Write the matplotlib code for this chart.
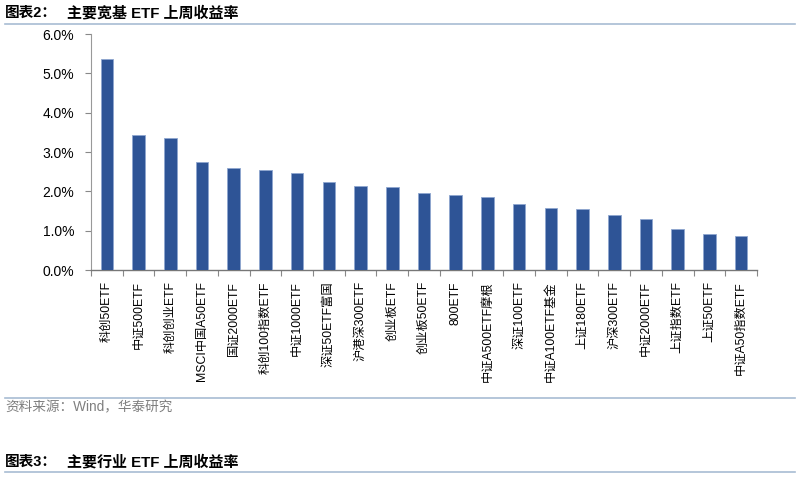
import matplotlib
matplotlib.use("Agg")
import matplotlib.pyplot as plt
from matplotlib.ticker import FuncFormatter, FixedLocator
from matplotlib.lines import Line2D
import numpy as np

categories = ["科创50ETF", "中证500ETF", "科创创业ETF", "MSCI中国A50ETF", "国证2000ETF",
              "科创100指数ETF", "中证1000ETF", "深证50ETF富国", "沪港深300ETF", "创业板ETF",
              "创业板50ETF", "800ETF", "中证A500ETF摩根", "深证100ETF", "中证A100ETF基金",
              "上证180ETF", "沪深300ETF", "中证2000ETF", "上证指数ETF", "上证50ETF", "中证A50指数ETF"]
returns = [5.37, 3.43, 3.36, 2.75, 2.59, 2.53, 2.46, 2.23, 2.14, 2.11,
           1.95, 1.91, 1.86, 1.67, 1.57, 1.54, 1.41, 1.30, 1.04, 0.91, 0.86]
yticks = [0, 1, 2, 3, 4, 5, 6]

plt.rcParams['font.family'] = ['Liberation Sans', 'Noto Sans CJK SC']

W, H = 800, 486
fig = plt.figure(figsize=(W / 100, H / 100), dpi=100)
ax = fig.add_axes([91 / W, 1 - 270 / H, (757 - 91) / W, (270 - 34) / H])

x = np.arange(len(categories))
ax.bar(x, returns, width=0.4, color="#2E5496", edgecolor="#8EA6CF", linewidth=0.6, zorder=3)

ax.set_xlim(-0.5, len(categories) - 0.5)
ax.set_ylim(0, 6)
ax.set_yticks(yticks)
ax.yaxis.set_major_formatter(FuncFormatter(lambda v, p: f"{v:.1f}%"))
ax.tick_params(axis="y", labelsize=10, length=4, color="#888888", width=0.8, pad=8, labelcolor="#000000")

ax.set_xticks(x)
ax.set_xticklabels(categories, rotation=90, fontsize=8.8, va="top", ha="center")
ax.tick_params(axis="x", which="major", length=0, pad=8)
ax.xaxis.set_minor_locator(FixedLocator(np.arange(-0.5, len(categories), 1.0)))
ax.tick_params(axis="x", which="minor", length=4, color="#888888", width=0.8)

for s in ["top", "right"]:
    ax.spines[s].set_visible(False)
ax.spines["left"].set_color("#999999")
ax.spines["bottom"].set_color("#777777")
ax.spines["left"].set_linewidth(0.8)
ax.spines["bottom"].set_linewidth(1.0)

# Header and footer
fig.text(5 / W, 1 - 13 / H, "图表2：", fontsize=10.5, fontweight="bold", va="center", ha="left")
fig.text(67 / W, 1 - 13 / H, "主要宽基 ETF 上周收益率", fontsize=10.8, fontweight="bold", va="center", ha="left")
fig.text(5 / W, 1 - 407 / H, "资料来源：Wind，华泰研究", fontsize=9.8, color="#7F7F7F", va="center", ha="left")
fig.text(5 / W, 1 - 462 / H, "图表3：", fontsize=10.5, fontweight="bold", va="center", ha="left")
fig.text(67 / W, 1 - 462 / H, "主要行业 ETF 上周收益率", fontsize=10.8, fontweight="bold", va="center", ha="left")

for yy in [24, 398, 472]:
    fig.add_artist(Line2D([5 / W, 795 / W], [1 - yy / H, 1 - yy / H], color="#A8BCD3", linewidth=1.2))

fig.savefig("out.png", dpi=100)
